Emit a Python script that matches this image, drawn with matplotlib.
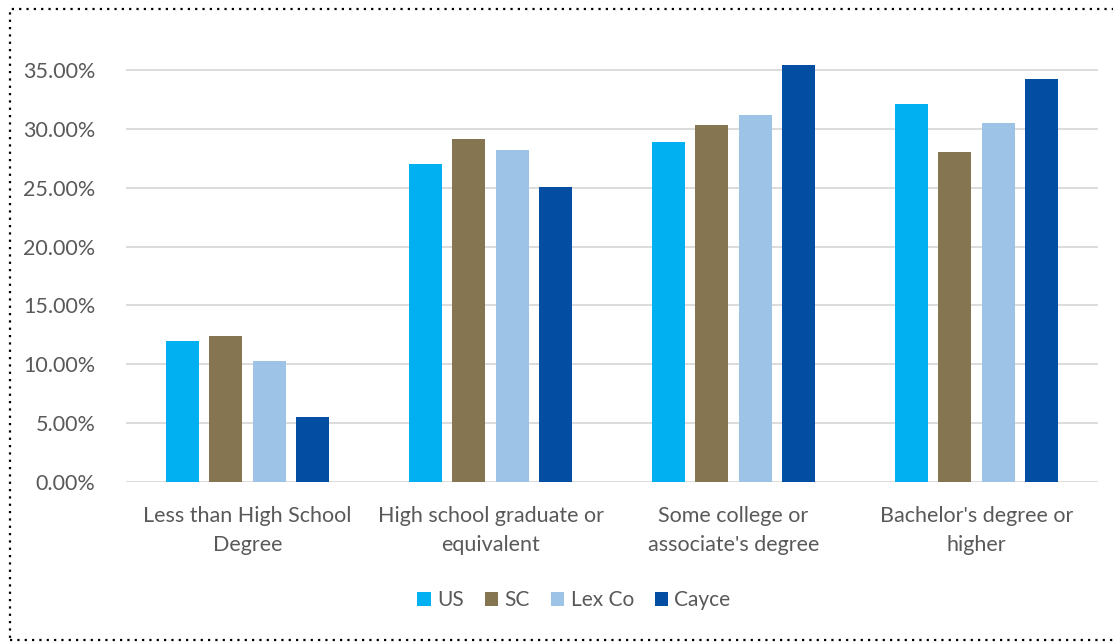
import matplotlib
matplotlib.use("Agg")
import matplotlib.pyplot as plt
from matplotlib.patches import Rectangle
from matplotlib.ticker import FuncFormatter
import numpy as np

categories = ["Less than High School\nDegree", "High school graduate or\nequivalent",
              "Some college or\nassociate's degree", "Bachelor's degree or\nhigher"]
series_names = ["US", "SC", "Lex Co", "Cayce"]
us = [12.0, 27.0, 28.9, 32.1]
sc = [12.4, 29.1, 30.3, 28.0]
lex = [10.3, 28.2, 31.2, 30.5]
cayce = [5.5, 25.1, 35.4, 34.2]
colors = ["#00B0F0", "#857550", "#9DC3E6", "#034EA2"]

plt.rcParams['font.family'] = ['Lato', 'DejaVu Sans']
txt = "#595959"

ymax = 36.0
px_per = (482 - 70) / 35.0
top_px = 482 - ymax * px_per

fig = plt.figure(figsize=(11.13, 6.42), dpi=100)
ax = fig.add_axes([126/1113, 1-482/642, (1098-126)/1113, (482-top_px)/642])

x = np.arange(len(categories))
pitch = 0.1786
width = 0.136
for i, (vals, c, name) in enumerate(zip([us, sc, lex, cayce], colors, series_names)):
    ax.bar(x + (i - 1.5) * pitch, vals, width, color=c, label=name, zorder=3)

ax.set_xlim(-0.5, 3.5)
ax.set_ylim(0, ymax)
ax.set_yticks(np.arange(0, 35.1, 5))
ax.yaxis.set_major_formatter(FuncFormatter(lambda v, p: f"{v:.2f}%"))
ax.grid(axis='y', color='#D9D9D9', linewidth=1.3, zorder=0)
for s in ax.spines.values():
    s.set_visible(False)
ax.tick_params(axis='both', length=0, labelsize=15.5, colors=txt)
ax.tick_params(axis='y', pad=22)
ax.tick_params(axis='x', pad=17)
ax.set_xticks(x)
ax.set_xticklabels(categories, linespacing=1.6)

leg = fig.legend(loc='center', bbox_to_anchor=(574/1113, 1-600/642), ncol=4, frameon=False,
                 fontsize=15, handlelength=0.65, handleheight=0.65, handletextpad=0.3,
                 columnspacing=1.0, labelcolor=txt)

border = Rectangle((10/1113, 1-640/642), 1.2, (640-9)/642, transform=fig.transFigure,
                   fill=False, edgecolor='black', linestyle=(0, (1, 2.3)), linewidth=1.6,
                   clip_on=False)
fig.add_artist(border)

fig.savefig("out.png", dpi=100)
